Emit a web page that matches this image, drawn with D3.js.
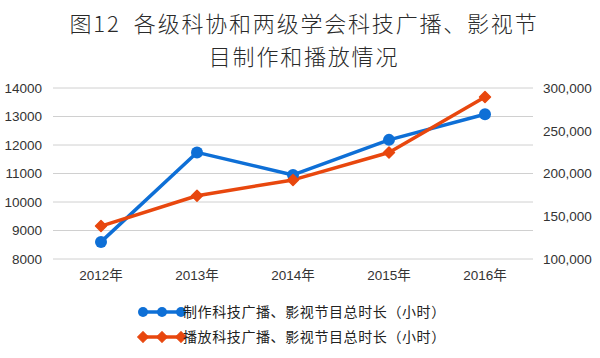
<!DOCTYPE html>
<html>
<head>
<meta charset="utf-8">
<script src="https://cdn.jsdelivr.net/npm/d3@7"></script>
<style>
  body { margin: 0; background: #fff; }
  svg text { font-family: "Noto Sans CJK SC", "Open Sans", sans-serif; }
</style>
</head>
<body>
<div id="canvas"></div>
<script>
const years = ["2012年", "2013年", "2014年", "2015年", "2016年"];
const produced = [8600, 11740, 10950, 12180, 13080];
const broadcast = [138500, 174000, 192500, 224500, 289500];
const leftTicks = [8000, 9000, 10000, 11000, 12000, 13000, 14000];
const rightTicks = [100000, 150000, 200000, 250000, 300000];
const seriesNames = ["制作科技广播、影视节目总时长（小时）", "播放科技广播、影视节目总时长（小时）"];
const titleLines = ["图12  各级科协和两级学会科技广播、影视节", "目制作和播放情况"];

const width = 600, height = 358;
const margin = { top: 88, left: 53, bottom: 99, right: 67 };
const iwidth = width - margin.left - margin.right;
const iheight = height - margin.top - margin.bottom;
const blue = "#0e6fd6", red = "#e8470e";

const svg = d3.select("#canvas").append("svg")
  .attr("width", width).attr("height", height);

// title, two lines in one text element
const title = svg.append("text")
  .attr("text-anchor", "middle")
  .style("white-space", "pre")
  .style("font-size", "22px").style("letter-spacing", "1.8px")
  .style("font-weight", 300).style("fill", "#2a2a2a");
title.selectAll("tspan").data(titleLines).enter().append("tspan")
  .attr("x", 304).attr("y", (d, i) => 32 + i * 32.5)
  .text(d => d);

const g = svg.append("g").attr("transform", `translate(${margin.left},${margin.top})`);

const x = d3.scaleBand().domain(years).range([0, iwidth]);
const yL = d3.scaleLinear().domain([8000, 14000]).range([iheight, 0]);
const yR = d3.scaleLinear().domain([100000, 300000]).range([iheight, 0]);

// gridlines
g.selectAll("line.grid").data(leftTicks).enter().append("line")
  .attr("x1", 0).attr("x2", iwidth)
  .attr("y1", d => yL(d)).attr("y2", d => yL(d))
  .style("stroke", "#d0d0d0").style("stroke-width", 1);

const axL = g.append("g").call(d3.axisLeft(yL).tickValues(leftTicks).tickSize(0).tickPadding(11).tickFormat(d3.format("d")));
const axR = g.append("g").attr("transform", `translate(${iwidth},0)`)
  .call(d3.axisRight(yR).tickValues(rightTicks).tickSize(0).tickPadding(10).tickFormat(d3.format(",")));
const axX = g.append("g").attr("transform", `translate(0,${iheight})`)
  .call(d3.axisBottom(x).tickSize(0).tickPadding(11));
[axL, axR, axX].forEach(a => {
  a.select(".domain").remove();
  a.selectAll("text").style("font-size", "13.5px").style("fill", "#333")
    .style("font-family", "'Liberation Sans', 'Noto Sans CJK SC', sans-serif");
});

const cx = d => x(d) + x.bandwidth() / 2;

const lineL = d3.line().x((d, i) => cx(years[i])).y(d => yL(d));
const lineR = d3.line().x((d, i) => cx(years[i])).y(d => yR(d));

g.append("path").datum(produced).attr("d", lineL)
  .style("fill", "none").style("stroke", blue).style("stroke-width", 3.5).style("stroke-linejoin", "round");
g.append("path").datum(broadcast).attr("d", lineR)
  .style("fill", "none").style("stroke", red).style("stroke-width", 3.5).style("stroke-linejoin", "round");

// diamond marker: a square turned 45 degrees
const diamond = d3.symbol().type(d3.symbolSquare).size(60);

g.selectAll("circle.prod").data(produced).enter().append("circle")
  .attr("cx", (d, i) => cx(years[i])).attr("cy", d => yL(d)).attr("r", 6)
  .style("fill", blue);
g.selectAll("path.bro").data(broadcast).enter().append("path")
  .attr("d", diamond)
  .attr("transform", (d, i) => `translate(${cx(years[i])},${yR(d)}) rotate(45)`)
  .style("fill", red).style("stroke", red).style("stroke-width", 1.5).style("stroke-linejoin", "round");

// legend
const items = [
  { name: seriesNames[0], color: blue, shape: "circle" },
  { name: seriesNames[1], color: red, shape: "diamond" }
];
const lg = svg.append("g").selectAll("g").data(items).enter().append("g")
  .attr("transform", (d, i) => `translate(143,${312 + i * 25})`);
lg.append("line").attr("x1", 0).attr("x2", 38).attr("y1", 0).attr("y2", 0)
  .style("stroke", d => d.color).style("stroke-width", 3.5);
lg.each(function(d) {
  const s = d3.select(this);
  [0, 19, 38].forEach(px => {
    if (d.shape === "circle") {
      s.append("circle").attr("cx", px).attr("cy", 0).attr("r", 5).style("fill", d.color);
    } else {
      s.append("path").attr("d", diamond).attr("transform", `translate(${px},0) rotate(45)`)
        .style("fill", d.color).style("stroke", d.color).style("stroke-width", 1).style("stroke-linejoin", "round");
    }
  });
});
lg.append("text").attr("x", 40).attr("y", 5)
  .style("font-size", "14px").style("fill", "#222").style("letter-spacing", "0.6px")
  .text(d => d.name);
</script>
</body>
</html>
